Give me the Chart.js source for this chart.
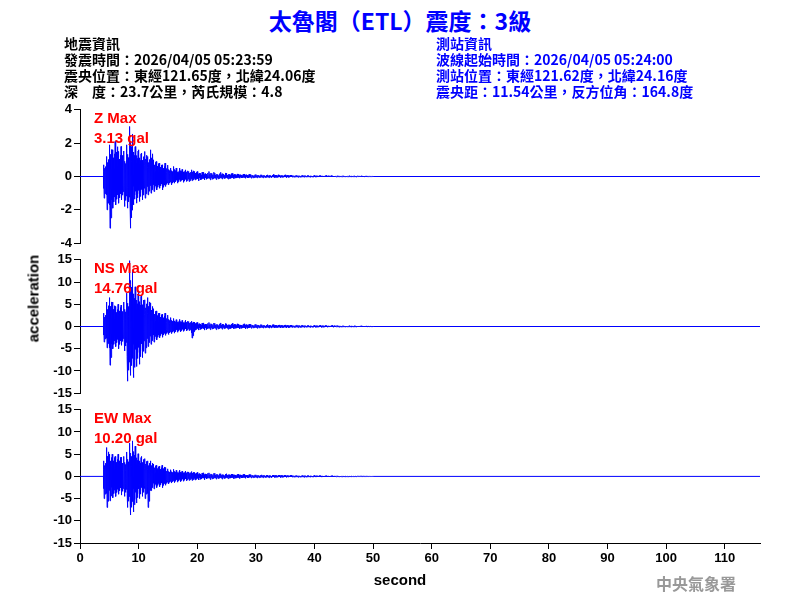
<!DOCTYPE html>
<html>
<head>
<meta charset="utf-8">
<script src="https://cdn.jsdelivr.net/npm/chart.js@4.4.1/dist/chart.umd.min.js"></script>
<style>
body { margin:0; background:#fff; }
#wrap { position:relative; width:800px; height:600px; overflow:hidden; font-family:"Liberation Sans", Arial, sans-serif; }
canvas { position:absolute; left:0; }
.t { position:absolute; white-space:pre; font-weight:bold; }
.info { font-family:"Noto Sans CJK TC", sans-serif; font-size:14px; line-height:16px; }
.lab { color:#f00; font-size:15px; line-height:20px; }
</style>
</head>
<body>
<div id="wrap">
  <canvas id="cz" style="top:100px" width="780" height="153"></canvas>
  <canvas id="cns" style="top:250px" width="780" height="153"></canvas>
  <canvas id="cew" style="top:400px" width="780" height="200"></canvas>

  <div class="t" style="left:0;width:800px;top:3px;text-align:center;color:#0000ff;font-size:23px;font-family:'Noto Sans CJK TC',sans-serif;">太魯閣（ETL）震度：3級</div>
  <div class="t info" style="left:64px;top:35px;color:#000">地震資訊
發震時間：2026/04/05 05:23:59
震央位置：東經121.65度，北緯24.06度
深　度：23.7公里，芮氏規模：4.8</div>
  <div class="t info" style="left:436px;top:35px;color:#0000ff">測站資訊
波線起始時間：2026/04/05 05:24:00
測站位置：東經121.62度，北緯24.16度
震央距：11.54公里，反方位角：164.8度</div>

  <div class="t lab" style="left:94px;top:108px">Z Max
3.13 gal</div>
  <div class="t lab" style="left:94px;top:258px">NS Max
14.76 gal</div>
  <div class="t lab" style="left:94px;top:408px">EW Max
10.20 gal</div>

  <div class="t" style="left:-22px;top:290px;width:110px;text-align:center;font-size:15px;transform:rotate(-90deg);">acceleration</div>
  <div class="t" style="left:340px;top:571px;width:120px;text-align:center;font-size:15px;">second</div>
  <div class="t" style="left:656px;top:571px;color:#999;font-size:16px;font-family:'Noto Sans CJK TC',serif;">中央氣象署</div>
</div>
<script>
var xMax = 116;

var tBins = [4,4.5,5,5.5,6,6.5,7,7.5,8,8.5,9,9.5,10,10.5,11,11.5,12,12.5,13,13.5,14,14.5,15,15.5,16,16.5,17,17.5,18,18.5,19,19.5,
  20,21,22,23,24,25,26,27,28,29,30,31,32,33,34,35,36,37,38,39,40,41,42,43,44,45,46,47,48,49,50];

var zHigh = [0.7,1.2,1.9,1.6,2.1,1.5,1.8,1.3,1.9,3.0,2.1,1.8,1.6,1.4,1.5,1.2,1.6,1.0,0.9,0.8,0.7,0.8,0.6,0.5,0.6,0.4,0.5,0.4,0.4,0.3,0.4,0.3,
  0.3,0.25,0.3,0.2,0.25,0.2,0.18,0.15,0.15,0.12,0.12,0.1,0.1,0.12,0.08,0.1,0.08,0.07,0.08,0.06,0.06,0.05,0.06,0.04,0.05,0.04,0.05,0.03,0.04,0.02];
var zLow = [-1.3,-2.0,-3.1,-1.9,-1.7,-1.6,-1.4,-1.8,-1.9,-3.1,-1.7,-1.6,-1.5,-1.4,-1.3,-1.1,-1.0,-0.9,-0.8,-0.7,-0.8,-0.6,-0.5,-0.5,-0.4,-0.4,-0.3,-0.35,-0.3,-0.3,-0.25,-0.2,
  -0.25,-0.2,-0.2,-0.18,-0.15,-0.15,-0.12,-0.1,-0.1,-0.1,-0.08,-0.08,-0.07,-0.07,-0.06,-0.06,-0.05,-0.05,-0.04,-0.04,-0.04,-0.03,-0.03,-0.03,-0.02,-0.02,-0.02,-0.02,-0.02,-0.01];

var nsHigh = [3.0,5.5,6.5,5.5,4.5,5.0,4.8,5.5,7.5,14.8,10.5,8.5,8.0,7.0,6.0,6.5,5.3,4.0,3.5,3.0,2.8,3.0,2.3,2.0,1.8,1.5,1.6,1.3,1.4,1.1,1.2,1.0,
  0.9,0.8,0.9,0.7,0.8,0.6,0.7,0.5,0.6,0.5,0.5,0.4,0.45,0.4,0.35,0.35,0.3,0.35,0.3,0.25,0.25,0.25,0.2,0.25,0.2,0.15,0.2,0.15,0.15,0.1];
var nsLow = [-3.5,-4.8,-8.7,-5.0,-4.5,-5.0,-4.2,-5.5,-12.3,-11.0,-11.5,-9.0,-8.5,-7.0,-6.0,-4.5,-4.0,-3.5,-3.0,-2.5,-2.4,-2.0,-1.8,-1.6,-1.5,-1.3,-1.2,-1.1,-1.0,-0.9,-2.6,-0.8,
  -0.8,-0.8,-0.7,-0.7,-0.6,-0.6,-0.5,-0.5,-0.5,-0.4,-0.4,-0.35,-0.35,-0.3,-0.3,-0.3,-0.25,-0.25,-0.2,-0.2,-0.2,-0.2,-0.15,-0.15,-0.15,-0.12,-0.12,-0.1,-0.1,-0.1];

var ewHigh = [3.5,6.5,5.0,5.0,4.5,5.0,4.3,4.5,5.5,7.5,8.0,6.0,5.0,4.5,4.0,3.5,3.5,2.8,2.5,2.3,2.5,2.0,1.6,1.5,1.6,1.3,1.4,1.2,1.2,1.0,1.1,0.9,
  0.9,0.8,0.8,0.7,0.6,0.6,0.5,0.5,0.45,0.4,0.35,0.35,0.3,0.3,0.3,0.25,0.25,0.2,0.25,0.2,0.2,0.15,0.15,0.15,0.12,0.1,0.1,0.05,0.05,0.03];
var ewLow = [-5.0,-7.0,-5.5,-4.8,-4.5,-4.0,-4.2,-4.5,-7.0,-8.7,-8.0,-6.0,-5.0,-4.5,-5.0,-7.0,-3.2,-2.8,-2.5,-2.3,-2.5,-2.0,-1.7,-1.5,-1.4,-1.3,-1.2,-1.1,-1.0,-0.9,-0.9,-0.8,
  -0.8,-0.7,-0.7,-0.6,-0.6,-0.5,-0.5,-0.45,-0.4,-0.35,-0.35,-0.3,-0.3,-0.25,-0.25,-0.2,-0.2,-0.2,-0.2,-0.15,-0.15,-0.15,-0.12,-0.1,-0.1,-0.1,-0.08,-0.05,-0.05,-0.03];

// wiggle shape used inside each bin, scaled by that bin's high/low
var wiggle = [1, -0.55, 0.45, -1, 0.7, -0.35, 0.6, -0.8, 0.3, -0.65, 0.85, -0.45];

// zigzag the high/low envelope of each time bin into a trace
function buildTrace(high, low){
    var pts = [{x:0, y:0}, {x:tBins[0], y:0}];
    for (var i = 0; i < high.length; i++) {
        var t = tBins[i], t2 = tBins[i+1];
        var step = (t2 - t) / wiggle.length;
        for (var k = 0; k < wiggle.length; k++) {
            var w = wiggle[k];
            pts.push({x:t + step*k, y: w > 0 ? high[i]*w : -low[i]*w});
        }
    }
    pts.push({x:tBins[tBins.length-1], y:0});
    pts.push({x:xMax, y:0});
    return pts;
}

Chart.defaults.font.family = "'Liberation Sans', Arial, sans-serif";
Chart.defaults.font.weight = 'bold';
Chart.defaults.font.size = 13;
Chart.defaults.color = '#000';

function makeChart(id, high, low, lim, step, showX){
    var ctx = document.getElementById(id).getContext('2d');
    return new Chart(ctx, {
        type: 'line',
        data: {datasets: [{
            data: buildTrace(high, low),
            borderColor: '#0000ff',
            borderWidth: 1,
            pointRadius: 0,
            tension: 0
        }]},
        options: {
            responsive: false,
            animation: false,
            layout: {padding: {top: 8, bottom: 0, right: 20, left: 0}},
            plugins: {legend: {display: false}, tooltip: {enabled: false}},
            scales: {
                x: {
                    type: 'linear', min: 0, max: xMax,
                    display: showX,
                    afterBuildTicks: function(s){ s.ticks = s.ticks.filter(function(t){ return t.value % 10 === 0; }); },
                    afterFit: function(s){ if (showX) s.height = 57; },
                    ticks: {stepSize: 10, maxRotation: 0, padding: 2},
                    grid: {drawOnChartArea: false, drawTicks: true, tickLength: 6, color: '#000'},
                    border: {color: '#000'}
                },
                y: {
                    min: -lim, max: lim,
                    afterFit: function(s){ s.width = 80; },
                    ticks: {stepSize: step, padding: 2},
                    grid: {drawOnChartArea: false, drawTicks: true, tickLength: 6, color: '#000'},
                    border: {color: '#000'}
                }
            }
        }
    });
}

makeChart('cz', zHigh, zLow, 4, 2, false);
makeChart('cns', nsHigh, nsLow, 15, 5, false);
makeChart('cew', ewHigh, ewLow, 15, 5, true);
</script>
</body>
</html>
